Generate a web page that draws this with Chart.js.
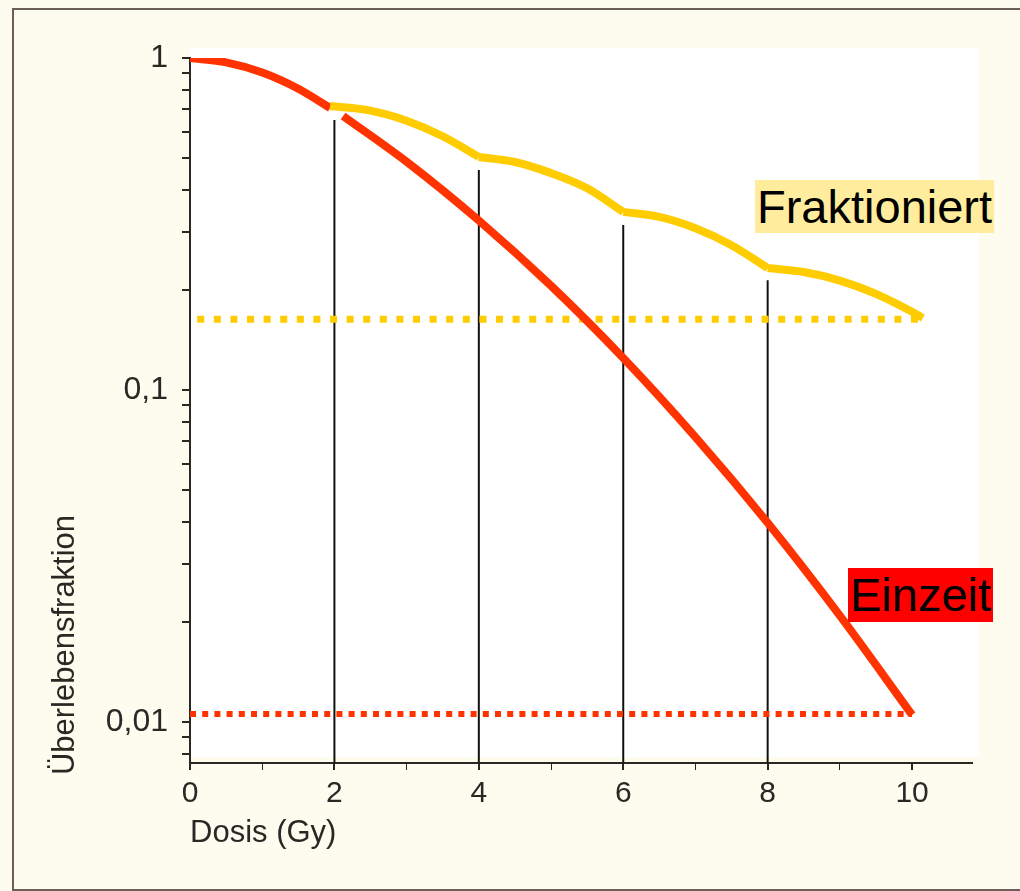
<!DOCTYPE html>
<html>
<head>
<meta charset="utf-8">
<script src="https://cdn.jsdelivr.net/npm/chart.js@4/dist/chart.umd.min.js"></script>
<style>
  body { margin: 0; background: #fdfcef; }
  #wrap { position: relative; width: 1020px; height: 891px; overflow: hidden; }
  #frame { position: absolute; left: 12px; top: 8px; width: 1040px; height: 879px;
           border-left: 2px solid #6b5d58; border-top: 2px solid #6b5d58; border-bottom: 2px solid #6b5d58; }
  canvas { position: absolute; left: 0; top: 0; }
  .tag { position: absolute; font-family: "Liberation Sans", Arial, sans-serif; font-size: 47px;
         color: #000; padding: 0 2px; white-space: nowrap; }
  #frak { left: 755px; top: 180px; height: 53px; line-height: 53px; background: #ffec9c; }
  #einz { left: 848px; top: 568px; height: 54px; line-height: 54px; background: #ff0000; }
</style>
</head>
<body>
<div id="wrap">
  <div id="frame"></div>
  <canvas id="myChart" width="1020" height="891"></canvas>
  <div class="tag" id="frak">Fraktioniert</div>
  <div class="tag" id="einz">Einzeit</div>
</div>
<script>
// Einzeit (single dose) - null leaves the small gap at 2 Gy
var einzeitDosis = [0, 0.5, 1, 1.5, 1.94, 2.03, 2.12, 3, 4, 5, 6, 7, 8, 9, 10];
var einzeitWerte = [1, 0.970, 0.904, 0.808, 0.707, null, 0.669, 0.487, 0.324, 0.206, 0.1248, 0.0721, 0.0398, 0.0209, 0.0105];

// Fraktioniert - one shoulder per 2 Gy fraction, null splits the fractions
var fraktDosis = [1.94, 2.5, 3, 3.5, 4, 4, 4, 4.5, 5, 5.5, 6, 6, 6, 6.5, 7, 7.5, 8, 8, 8, 8.5, 9, 9.5, 10, 10.15];
var fraktWerte = [0.717, 0.694, 0.647, 0.581, 0.503, null, 0.503, 0.486, 0.450, 0.405, 0.344, null, 0.344, 0.332, 0.307, 0.273, 0.233, null, 0.233, 0.2266, 0.2135, 0.1948, 0.172, 0.1648];

// dotted reference levels
var fraktLevel = 0.1633, fraktLevelX = [0.1, 10.15];
var einzeitLevel = 0.01057, einzeitLevelX = [0, 10];

// thin black lines at each fraction
var fraktionen = [2, 4, 6, 8];
var fraktionTop = [0.650, 0.460, 0.314, 0.214];

var yMin = 0.00752, yMax = 1;
var xMin = 0, xMax = 10.83;
var yMajor = [0.01, 0.1, 1];
var yLabels = ['0,01', '0,1', '1'];
var xTicks = [0, 1, 2, 3, 4, 5, 6, 7, 8, 9, 10];
var xLabels = ['0', '', '2', '', '4', '', '6', '', '8', '', '10'];

var FONT = '"Liberation Sans", Arial, sans-serif';
var INK = '#2b2725';

function pts(xs, ys) {
    return xs.map(function (x, i) { return { x: x, y: ys[i] }; });
}

var datasets = [];
datasets.push({
    data: pts(einzeitDosis, einzeitWerte), borderColor: '#ff3300', borderWidth: 8,
    cubicInterpolationMode: 'monotone', spanGaps: false, pointRadius: 0, order: 2
});
datasets.push({
    data: pts(fraktDosis, fraktWerte), borderColor: '#ffcc00', borderWidth: 8,
    cubicInterpolationMode: 'monotone', spanGaps: false, pointRadius: 0, order: 1
});
datasets.push({
    data: pts(fraktLevelX, [fraktLevel, fraktLevel]), borderColor: '#ffcc00', borderWidth: 7,
    borderDash: [7, 9.6], pointRadius: 0, order: 3
});
datasets.push({
    data: pts(einzeitLevelX, [einzeitLevel, einzeitLevel]), borderColor: '#ff3300', borderWidth: 6,
    borderDash: [6, 6.2], pointRadius: 0, order: 3
});
for (var i = 0; i < fraktionen.length; i++) {
    datasets.push({
        data: pts([fraktionen[i], fraktionen[i]], [yMin, fraktionTop[i]]), borderColor: '#111', borderWidth: 2,
        pointRadius: 0, order: 4
    });
}

var paper = {
    id: 'paper',
    beforeDraw: function (chart) {
        var a = chart.chartArea, ctx = chart.ctx;
        ctx.save();
        ctx.fillStyle = '#ffffff';
        ctx.fillRect(a.left, a.top - 10, a.right - a.left + 7, a.bottom - a.top + 4);
        ctx.restore();
    },
    afterDraw: function (chart) {
        var ctx = chart.ctx;
        ctx.save();
        ctx.translate(65, 645);
        ctx.rotate(-Math.PI / 2);
        ctx.font = '31px ' + FONT;
        ctx.fillStyle = INK;
        ctx.textAlign = 'center';
        ctx.textBaseline = 'middle';
        ctx.fillText('Überlebensfraktion', 0, 0);
        ctx.restore();
    }
};

var ctx = document.getElementById('myChart').getContext('2d');
var chart = new Chart(ctx, {
    type: 'line',
    data: { datasets: datasets },
    plugins: [paper],
    options: {
        responsive: false,
        animation: false,
        layout: { padding: { left: 12, right: 48, top: 58, bottom: 39 } },
        plugins: { legend: { display: false }, tooltip: { enabled: false } },
        scales: {
            x: {
                type: 'linear', min: xMin, max: xMax,
                afterFit: function (s) { s.height = 89; },
                afterBuildTicks: function (s) { s.ticks = xTicks.map(function (v) { return { value: v }; }); },
                grid: {
                    drawOnChartArea: false, tickLength: 7, color: INK,
                    lineWidth: function (c) { return c.index % 2 ? 1 : 2; }
                },
                border: { display: true, color: INK, width: 2 },
                ticks: {
                    padding: 6, color: INK, font: { family: FONT, size: 30 },
                    callback: function (v, i) { return xLabels[i]; }
                },
                title: {
                    display: true, text: 'Dosis (Gy)', align: 'start', color: INK,
                    font: { family: FONT, size: 31 }, padding: 0
                }
            },
            y: {
                type: 'logarithmic', min: yMin, max: yMax,
                afterFit: function (s) { s.width = 178; },
                afterBuildTicks: function (s) {
                    var t = [];
                    [0.001, 0.01, 0.1, 1].forEach(function (d) {
                        for (var m = 1; m <= 9; m++) {
                            var v = +(m * d).toPrecision(3);
                            if (v >= yMin && v <= yMax) t.push({ value: v });
                        }
                    });
                    s.ticks = t;
                },
                grid: { drawOnChartArea: false, tickLength: 8, color: INK, lineWidth: 2 },
                border: { display: true, color: INK, width: 2 },
                ticks: {
                    padding: 14, color: INK, font: { family: FONT, size: 32 }, autoSkip: false,
                    callback: function (v) {
                        for (var k = 0; k < yMajor.length; k++) {
                            if (Math.abs(v - yMajor[k]) < yMajor[k] * 1e-6) return yLabels[k];
                        }
                        return '';
                    }
                }
            }
        }
    }
});
</script>
</body>
</html>
